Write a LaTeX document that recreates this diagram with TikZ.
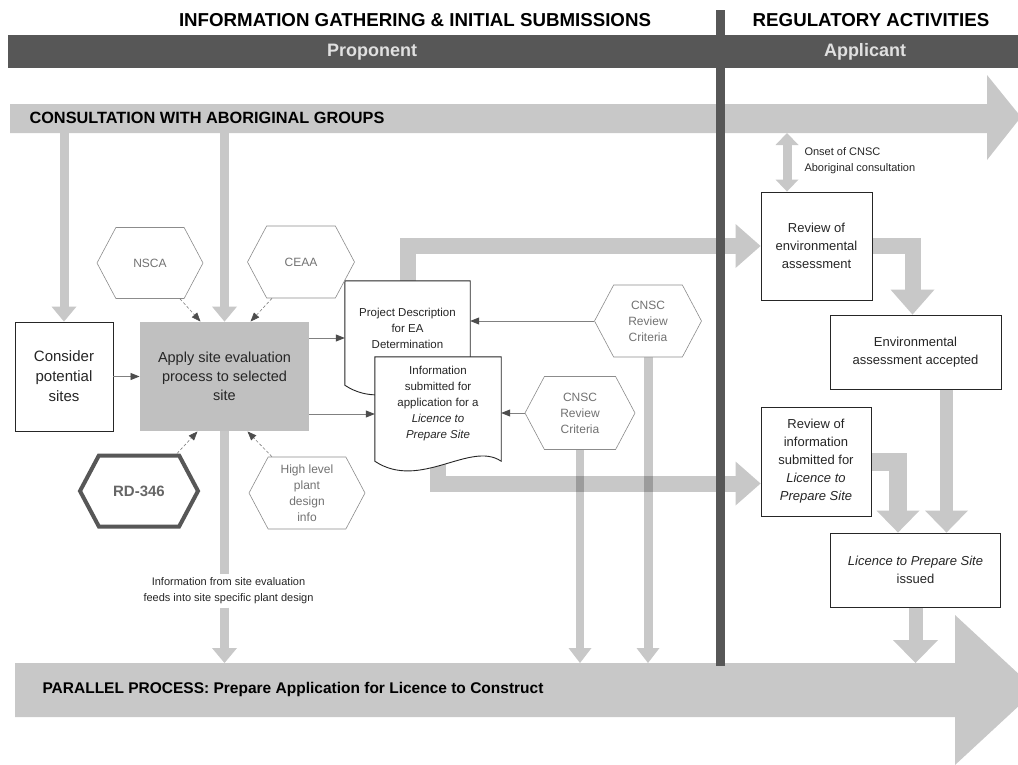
\documentclass[tikz,border=0pt]{standalone}
\usepackage{fontspec}
\setmainfont{Liberation Sans}
\usetikzlibrary{arrows.meta,shapes.symbols,backgrounds}

\definecolor{bandgray}{HTML}{575757}
\definecolor{flowgray}{HTML}{C8C8C8}
\definecolor{sitegray}{HTML}{C0C0C0}
\definecolor{hexline}{HTML}{8C8C8C}
\definecolor{hextext}{HTML}{727272}
\definecolor{tipgray}{HTML}{4D4D4D}
\definecolor{inktext}{HTML}{262626}

\tikzset{
  stepbox/.style={draw=inktext, line width=0.9pt, fill=white, align=center,
    text=inktext, inner sep=1pt, font=\fontsize{13}{18}\selectfont},
  hexa/.style={signal, signal to=west and east, signal pointer angle=124,
    draw=hexline, line width=0.6pt, fill=white, text=hextext, align=center,
    inner sep=0pt, font=\fontsize{12}{16}\selectfont},
  docnode/.style={align=center, text=inktext, inner sep=0pt,
    font=\fontsize{11.5}{16}\selectfont},
  docline/.style={draw=inktext, line width=0.9pt, fill=white},
  feed/.style={draw=gray, line width=0.8pt,
    -{Triangle[length=9pt,width=7pt,color=tipgray]}},
  hint/.style={feed, densely dashed, line width=0.6pt},
  flow/.style={draw=flowgray, line width=9pt,
    -{Triangle[length=15pt,width=25pt,line width=0pt]}},
  wideflow/.style={draw=flowgray, line width=16pt,
    -{Triangle[length=25pt,width=44pt,line width=0pt]}},
  titletext/.style={font=\bfseries\fontsize{18.7}{21}\selectfont},
}

\begin{document}
\begin{tikzpicture}[x=1pt,y=-1pt]
\useasboundingbox (0,0) rectangle (1018,764);
\clip (0,0) rectangle (1018,764);

% headings and role band
\node[titletext] (gather) at (415,20) {INFORMATION GATHERING \& INITIAL SUBMISSIONS};
\node[titletext] (regul) at (871,20) {REGULATORY ACTIVITIES};
\fill[bandgray] (8,35) rectangle (1018,68);
\node[font=\bfseries\fontsize{18}{20}\selectfont, text=black!12] (prop) at (372,52) {Proponent};
\node[font=\bfseries\fontsize{18}{20}\selectfont, text=black!12] (appl) at (865,52) {Applicant};

% the two long process arrows
\fill[flowgray] (10,104) -- (987,104) -- (987,75) -- (1021,117) -- (987,160) -- (987,133) -- (10,133) -- cycle;
\node[anchor=west, font=\bfseries\fontsize{16.3}{18}\selectfont] (consult) at (26,118) {CONSULTATION WITH ABORIGINAL GROUPS};
\fill[flowgray] (15,663) -- (955,663) -- (955,615) -- (1036,690) -- (955,765) -- (955,717) -- (15,717) -- cycle;
\node[anchor=west, font=\bfseries\fontsize{15.5}{18}\selectfont] (parallel) at (39,689) {PARALLEL PROCESS: Prepare Application for Licence to Construct};

% proponent side
\node[stepbox, minimum width=98pt, minimum height=109pt, font=\fontsize{15}{20}\selectfont] (consider) at (64,376.5) {Consider\\potential\\sites};
\node[stepbox, draw=none, fill=sitegray, minimum width=169pt, minimum height=109pt, font=\fontsize{14.5}{19}\selectfont] (apply) at (224.5,376.5) {Apply site evaluation\\process to selected\\site};

\node[hexa, minimum width=106pt, minimum height=71pt] (nsca) at (150,263) {NSCA};
\node[hexa, minimum width=107pt, minimum height=72pt] (ceaa) at (301,262) {CEAA};
\node[hexa, minimum width=107pt, minimum height=72pt] (crit1) at (648,321) {CNSC\\Review\\Criteria};
\node[hexa, minimum width=110pt, minimum height=73pt] (crit2) at (580,413) {CNSC\\Review\\Criteria};
\node[hexa, draw=bandgray, line width=4pt, minimum width=118pt, minimum height=71pt, text=black!60, font=\bfseries\fontsize{15}{18}\selectfont] (rd) at (139,491) {RD-346};
\node[hexa, minimum width=116pt, minimum height=72pt] (hlpd) at (307,493) {High level\\plant\\design\\info};

\node[docnode, minimum width=125pt, minimum height=94pt] (pd) at (407.5,328) {Project Description\\for EA\\Determination};
\node[docnode, minimum width=126pt, minimum height=94pt] (info) at (438,404) {Information\\submitted for\\application for a\\\textit{Licence to}\\\textit{Prepare Site}};

\node[font=\fontsize{11}{16}\selectfont, text=inktext, align=center] (feeds) at (228.5,591) {Information from site evaluation\\feeds into site specific plant design};

% regulatory side
\node[stepbox, minimum width=111pt, minimum height=108pt] (rev-ea) at (816.5,246) {Review of\\environmental\\assessment};
\node[stepbox, minimum width=171pt, minimum height=74pt] (env) at (915.5,352) {Environmental\\assessment accepted};
\node[stepbox, minimum width=110pt, minimum height=109pt] (rev-info) at (816,461.5) {Review of\\information\\submitted for\\\textit{Licence to}\\\textit{Prepare Site}};
\node[stepbox, minimum width=170pt, minimum height=74pt] (lic) at (915.5,570) {\textit{Licence to Prepare Site}\\issued};
\coordinate (onset) at (787,133);
\node[anchor=west, align=left, font=\fontsize{11}{16}\selectfont, text=inktext] (onset-txt) at (801,161) {Onset of CNSC\\Aboriginal consultation};

\begin{scope}[on background layer]
\fill[white] (0,0) rectangle (1018,764);
\draw[wideflow] (pd.north) |- (rev-ea.west);
\draw[wideflow] (info.south) |- ([yshift=-22pt]rev-info.west);
\draw[flow, line width=8pt, -{Triangle[length=15pt,width=23pt,line width=0pt]}, blend mode=multiply] (crit2.south) -- (crit2.south |- 0,663);
\draw[flow, line width=9pt, -{Triangle[length=15pt,width=23pt,line width=0pt]}, blend mode=multiply] (crit1.south) -- (crit1.south |- 0,663);
\draw[flow] (consider.north |- 0,133) -- (consider.north);
\draw[flow] (apply.north |- 0,133) -- (apply.north);
\draw[flowgray, line width=9pt] (apply.south) -- (apply.south |- feeds.north);
\draw[flow] (apply.south |- feeds.south) -- (apply.south |- 0,663);
\draw[flow, line width=9pt, {Triangle[length=12pt,width=23pt,line width=0pt]}-{Triangle[length=12pt,width=23pt,line width=0pt]}] (onset) -- (onset |- rev-ea.north);
\draw[wideflow] (rev-ea.east) -| ([xshift=-3pt]env.north);
\draw[flow, line width=13pt, -{Triangle[length=22pt,width=43pt,line width=0pt]}] ([xshift=31pt]env.south) -- ([xshift=31pt]lic.north);
\draw[wideflow, line width=18pt, -{Triangle[length=22pt,width=43pt,line width=0pt]}] (rev-info.east) -| ([xshift=-17.5pt]lic.north);
\draw[flow, line width=14pt, -{Triangle[length=23pt,width=45pt,line width=0pt]}] (lic.south) -- (lic.south |- 0,663);
% document outlines with wavy bottoms
\draw[docline] (pd.north west) -- (pd.north east) -- ([yshift=-10pt]pd.south east) .. controls +(-31,-21) and +(45,30) .. ([yshift=-10pt]pd.south west) -- cycle;
\draw[docline] (info.north west) -- (info.north east) -- ([yshift=-10pt]info.south east) .. controls +(-31,-21) and +(45,30) .. ([yshift=-10pt]info.south west) -- cycle;
\end{scope}

% thin input arrows
\draw[feed] (consider.east) -- (apply.west);
\draw[feed] (apply.east |- 0,338) -- (pd.west |- 0,338);
\draw[feed] (apply.east |- 0,414) -- (info.west |- 0,414);
\draw[feed] (crit1.west) -- (pd.east |- crit1.west);
\draw[feed] (crit2.west) -- (info.east |- crit2.west);
\draw[hint] ([xshift=30pt]nsca.south) -- ([xshift=-24pt]apply.north);
\draw[hint] ([xshift=-29pt]ceaa.south) -- ([xshift=26pt]apply.north);
\draw[hint] ([xshift=38pt]rd.north) -- ([xshift=-27pt]apply.south);
\draw[hint] ([xshift=-35pt]hlpd.north) -- ([xshift=23pt]apply.south);

% divider between the two phases
\draw[bandgray, line width=9pt] (720,10) -- (720,666);
\end{tikzpicture}
\end{document}
